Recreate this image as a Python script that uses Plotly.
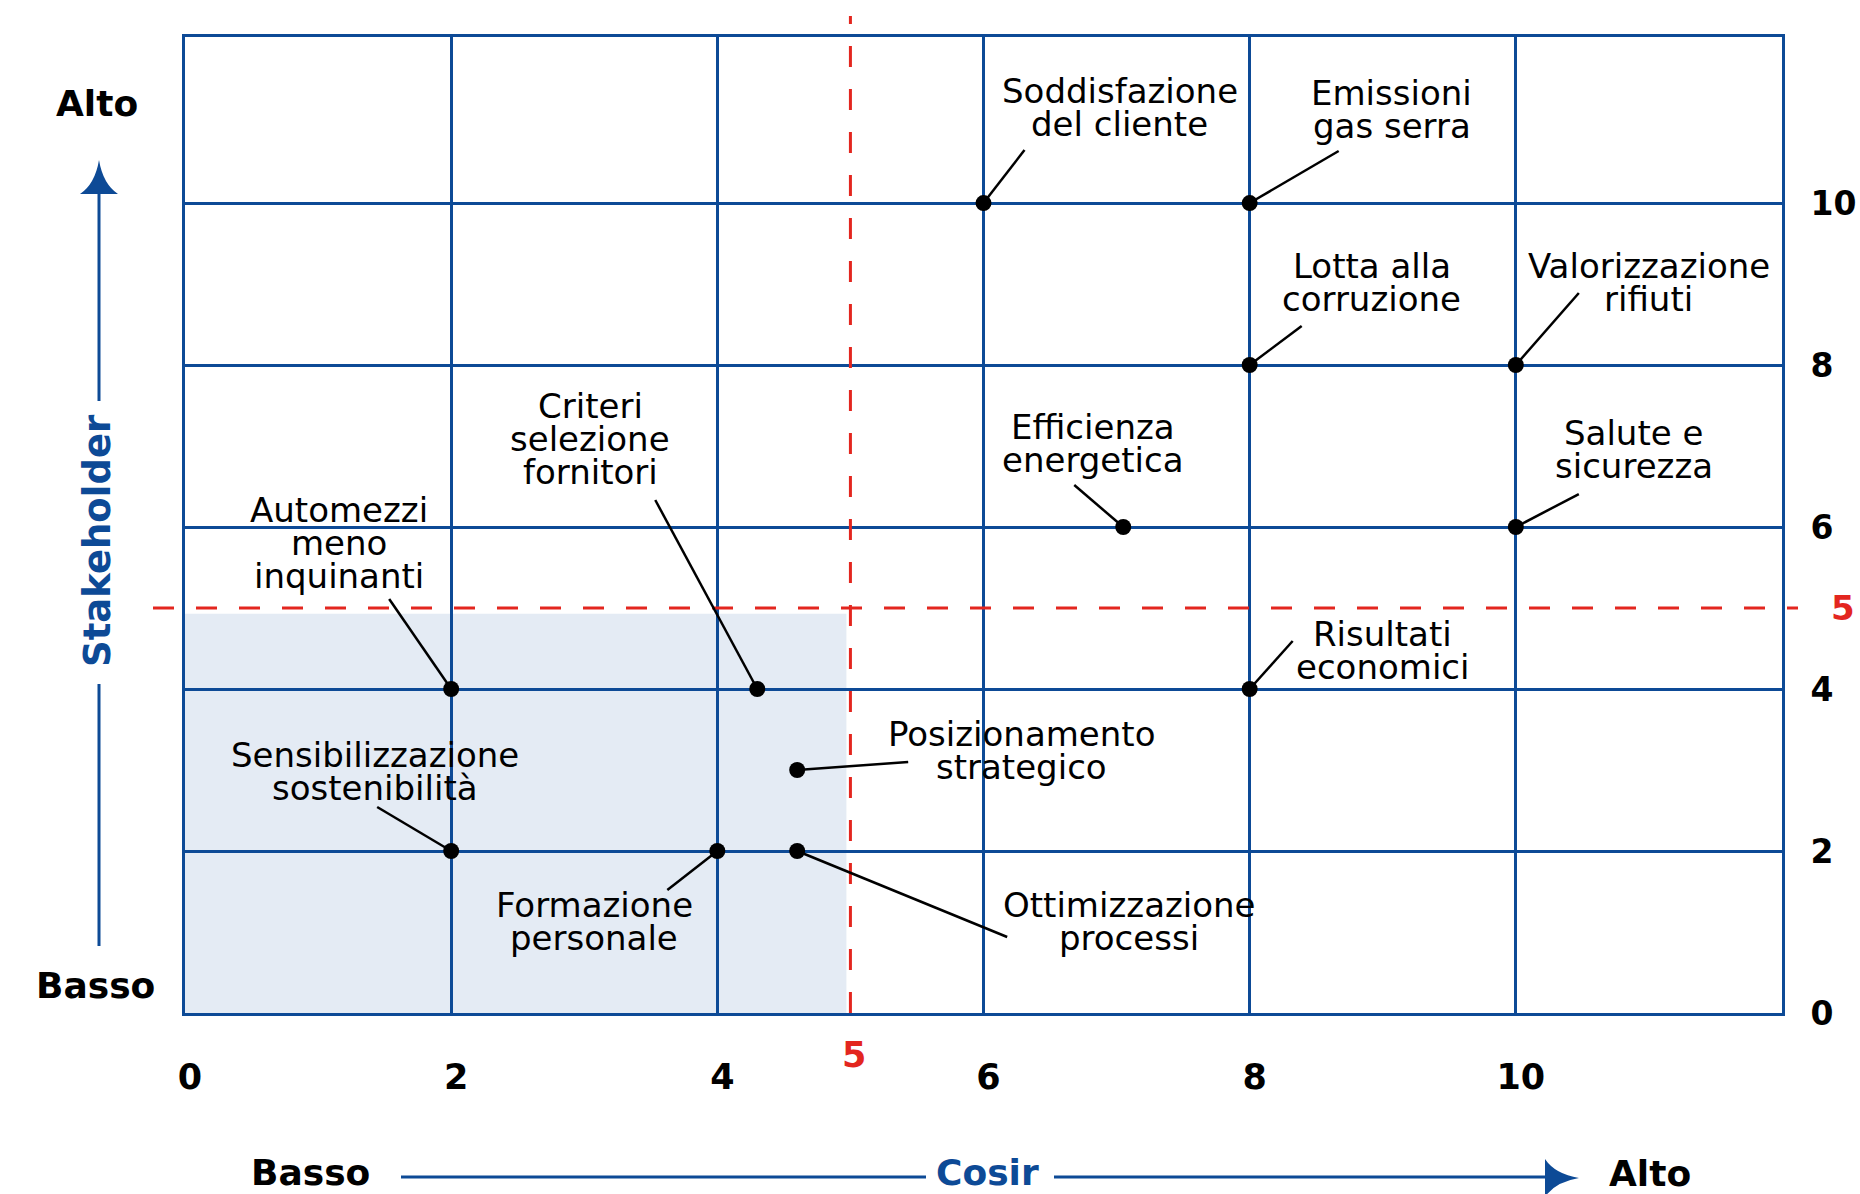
import plotly.graph_objects as go

# Materiality matrix: each topic scored on the Cosir axis (x) and the Stakeholder axis (y)
topics = [
    "Soddisfazione del cliente", "Emissioni gas serra", "Lotta alla corruzione",
    "Valorizzazione rifiuti", "Efficienza energetica", "Salute e sicurezza",
    "Risultati economici", "Automezzi meno inquinanti", "Criteri selezione fornitori",
    "Sensibilizzazione sostenibilità", "Posizionamento strategico",
    "Formazione personale", "Ottimizzazione processi",
]
label_lines = [
    ["Soddisfazione", "del cliente"], ["Emissioni", "gas serra"], ["Lotta alla", "corruzione"],
    ["Valorizzazione", "rifiuti"], ["Efficienza", "energetica"], ["Salute e", "sicurezza"],
    ["Risultati", "economici"], ["Automezzi", "meno", "inquinanti"], ["Criteri", "selezione", "fornitori"],
    ["Sensibilizzazione", "sostenibilità"], ["Posizionamento", "strategico"],
    ["Formazione", "personale"], ["Ottimizzazione", "processi"],
]
cosir_score = [6, 8, 8, 10, 7.05, 10, 8, 2, 4.3, 2, 4.6, 4, 4.6]
stakeholder_score = [10, 10, 8, 8, 6, 6, 4, 4, 4, 2, 3, 2, 2]

x_ticks = [0, 2, 4, 6, 8, 10]
y_ticks = [0, 2, 4, 6, 8, 10]
threshold = 5
x_max = 12
y_max = 12.05

# Label placement in pixels relative to each point:
# (text centre dx, first line dy up, leader end dx, leader end dy up)
LABEL_OFFSETS = [
    (136, 112, 41, 53), (142, 110, 89, 52), (122, 99, 52, 39),
    (133, 99, 63, 72), (-30, 100, -49, 42), (118, 94, 63, 33),
    (133, 55, 43, 48), (-112, 179, -62, 90), (-167, 283, -102, 189),
    (-76, 96, -74, 44), (224, 36, 111, 8), (-123, -54, -50, -39),
    (332, -54, 210, -86),
]
LINE_STEP = 33

# Page geometry
W, H = 1860, 1194
ML, MR, MT, MB = 185, 78, 37, 181
PW, PH = W - ML - MR, H - MT - MB

BLUE = "#0D4A96"
RED = "#E3261F"
SHADE = "#E4EBF4"
FONT = "DejaVu Sans"


def px(xp):
    return (xp - ML) / PW


def py(yp):
    return (H - MB - yp) / PH


fig = go.Figure()

fig.add_trace(go.Scatter(
    x=cosir_score, y=stakeholder_score, mode="markers",
    marker=dict(size=16, color="black"), text=topics,
    hoverinfo="text", cliponaxis=False, showlegend=False,
))

shapes = []
annotations = []

# Low-priority quadrant
shapes.append(dict(type="rect", xref="x", yref="y", x0=0, y0=0,
                   x1=threshold - 0.03, y1=threshold - 0.07,
                   fillcolor=SHADE, line=dict(width=0), layer="below"))

# Threshold lines
shapes.append(dict(type="line", xref="x", yref="paper", x0=threshold, x1=threshold,
                   y0=0, y1=py(16), line=dict(color=RED, width=3, dash="21px,22px")))
shapes.append(dict(type="line", xref="paper", yref="y", x0=px(153), x1=px(1798),
                   y0=threshold, y1=threshold, line=dict(color=RED, width=3, dash="21px,22px")))

# Leader lines and labels
for xv, yv, lines, (tdx, tdy, ldx, ldy) in zip(cosir_score, stakeholder_score, label_lines, LABEL_OFFSETS):
    shapes.append(dict(type="line", xref="x", yref="y",
                       xsizemode="pixel", xanchor=xv, x0=0, x1=ldx,
                       ysizemode="pixel", yanchor=yv, y0=0, y1=ldy,
                       line=dict(color="black", width=2.5)))
    for i, line in enumerate(lines):
        annotations.append(dict(
            x=xv, y=yv, xref="x", yref="y", text=line, showarrow=False,
            xshift=tdx, yshift=tdy - i * LINE_STEP, xanchor="center", yanchor="middle",
            font=dict(family=FONT, size=34, color="black"),
        ))

# Axis arrows
for (x0, y0, x1, y1) in [(99, 193, 99, 401), (99, 684, 99, 946),
                         (401, 1177, 926, 1177), (1054, 1177, 1548, 1177)]:
    shapes.append(dict(type="line", xref="paper", yref="paper",
                       x0=px(x0), y0=py(y0), x1=px(x1), y1=py(y1),
                       line=dict(color=BLUE, width=3)))


def head_path(pts):
    (tx, ty), (c1x, c1y), (ax, ay), (bx, by), (c2x, c2y) = pts
    return (f"M {px(tx)},{py(ty)} Q {px(c1x)},{py(c1y)} {px(ax)},{py(ay)} "
            f"L {px(bx)},{py(by)} Q {px(c2x)},{py(c2y)} {px(tx)},{py(ty)} Z")


shapes.append(dict(type="path", xref="paper", yref="paper",
                   path=head_path([(99, 160), (103, 184), (118, 194), (80, 194), (95, 184)]),
                   fillcolor=BLUE, line=dict(width=0)))
shapes.append(dict(type="path", xref="paper", yref="paper",
                   path=head_path([(1579, 1178), (1555, 1174), (1545, 1159), (1545, 1197), (1555, 1182)]),
                   fillcolor=BLUE, line=dict(width=0)))

# Axis captions
bold = dict(family=FONT, size=36, color="black", weight="bold")
for text, xp, yp, color in [("Alto", 97, 103, "black"), ("Basso", 95, 985, "black"),
                            ("Basso", 310, 1172, "black"), ("Alto", 1650, 1173, "black"),
                            ("Cosir", 987, 1172, BLUE)]:
    annotations.append(dict(x=px(xp), y=py(yp), xref="paper", yref="paper", text=text,
                            showarrow=False, xanchor="center", yanchor="middle",
                            font=dict(bold, color=color)))
annotations.append(dict(x=px(97), y=py(541), xref="paper", yref="paper", text="Stakeholder",
                        showarrow=False, textangle=-90, xanchor="center", yanchor="middle",
                        font=dict(family=FONT, size=37, color=BLUE, weight="bold")))

# Threshold value labels
annotations.append(dict(x=threshold, y=py(1055), xref="x", yref="paper", text=str(threshold),
                        showarrow=False, xanchor="center", yanchor="middle", xshift=4,
                        font=dict(family=FONT, size=35, color=RED, weight="bold")))
annotations.append(dict(x=px(1843), y=threshold, xref="paper", yref="y", text=str(threshold),
                        showarrow=False, xanchor="center", yanchor="middle",
                        font=dict(family=FONT, size=34, color=RED, weight="bold")))

axis_common = dict(
    showgrid=True, gridcolor=BLUE, gridwidth=2.5,
    zeroline=False, showline=True, linecolor=BLUE, linewidth=3, mirror=True,
    ticks="", fixedrange=True, automargin=False,
)

fig.update_layout(
    width=W, height=H,
    margin=dict(l=ML, r=MR, t=MT, b=MB, pad=0),
    paper_bgcolor="white", plot_bgcolor="white",
    xaxis=dict(axis_common, range=[0, x_max], tickvals=x_ticks,
               ticklabelstandoff=31, ticklabelshift=5,
               tickfont=dict(family=FONT, size=35, color="black", weight="bold")),
    yaxis=dict(axis_common, range=[0, y_max], tickvals=y_ticks, side="right",
               ticklabelstandoff=19,
               tickfont=dict(family=FONT, size=33, color="black", weight="bold")),
    shapes=shapes, annotations=annotations,
    showlegend=False,
)

fig.write_html("out.html")
